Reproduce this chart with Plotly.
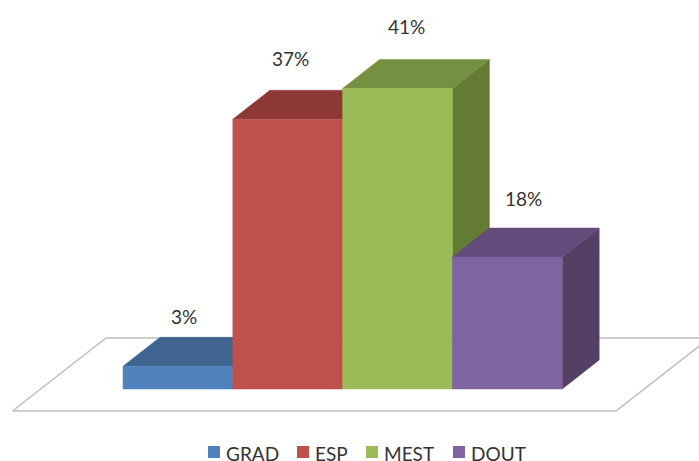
import plotly.graph_objects as go

categories = ["GRAD", "ESP", "MEST", "DOUT"]
values = [3.1, 36.8, 41, 18]
labels = ["3%", "37%", "41%", "18%"]

front_colors = ["#4F81BD", "#C0504D", "#9BBB59", "#8064A2"]
top_colors = ["#3F648F", "#8E3836", "#769041", "#634C7B"]
side_colors = ["#375779", "#7A302E", "#647B35", "#544065"]
label_shift = [(7, -21), (4, -32), (10, -33), (17, -30)]
legend_px = [214, 303, 372, 459]

W, H = 699, 461
X0, XU = 123, 109.8   # pixel of category edge 0, pixels per category
Y0, YU = 389, 7.33    # pixel of value 0, pixels per percent
DX, DY = 37 / XU, 29 / YU  # oblique depth in axis units
FONT = "Lato, Carlito, sans-serif"


def ux(px):
    return (px - X0) / XU


def uy(py):
    return (Y0 - py) / YU


def face(xs, ys, color):
    return go.Scatter(x=xs, y=ys, mode="lines", fill="toself", fillcolor=color,
                      line=dict(color=color, width=0.5), hoverinfo="skip",
                      showlegend=False)


fig = go.Figure()

# floor
fx_left, fx_right = ux(12.5), ux(616)
fy = uy(411)
fdx, fdy = 93.5 / XU, 73 / YU
fig.add_trace(go.Scatter(
    x=[fx_left, fx_right, fx_right + fdx, fx_left + fdx, fx_left],
    y=[fy, fy, fy + fdy, fy + fdy, fy],
    mode="lines", line=dict(color="#BFBFBF", width=1.5), hoverinfo="skip",
    showlegend=False))

# bars
for i, v in enumerate(values):
    l, r = i, i + 1
    fig.add_trace(face([r, r + DX, r + DX, r, r], [0, DY, v + DY, v, 0], side_colors[i]))
    fig.add_trace(face([l, r, r + DX, l + DX, l], [v, v, v + DY, v + DY, v], top_colors[i]))
    fig.add_trace(face([l, r, r, l, l], [0, 0, v, v, 0], front_colors[i]))
    fig.add_annotation(x=i + 0.5, y=v + DY, text=labels[i], showarrow=False,
                       xanchor="center", yanchor="middle",
                       xshift=label_shift[i][0] - 1, yshift=-label_shift[i][1],
                       font=dict(family=FONT, size=19, color="#333333"))

# legend row
for i, name in enumerate(categories):
    fig.add_trace(go.Scatter(x=[ux(legend_px[i])], y=[uy(452)], mode="markers",
                             marker=dict(symbol="square", size=12, color=front_colors[i]),
                             hoverinfo="skip", showlegend=False))
    fig.add_annotation(x=ux(legend_px[i] + 10), y=uy(449), text=name, showarrow=False,
                       xanchor="left", yanchor="middle", yshift=-4,
                       font=dict(family=FONT, size=19, color="#333333"))

fig.update_layout(
    width=W, height=H, margin=dict(l=0, r=0, t=0, b=0),
    paper_bgcolor="white", plot_bgcolor="white", showlegend=False,
    xaxis=dict(range=[ux(0), ux(W)], visible=False, fixedrange=True),
    yaxis=dict(range=[uy(H), uy(0)], visible=False, fixedrange=True),
)
fig.write_html("out.html", config={"displayModeBar": False},
               post_script="document.body.style.margin='0';document.body.style.overflow='hidden';")
